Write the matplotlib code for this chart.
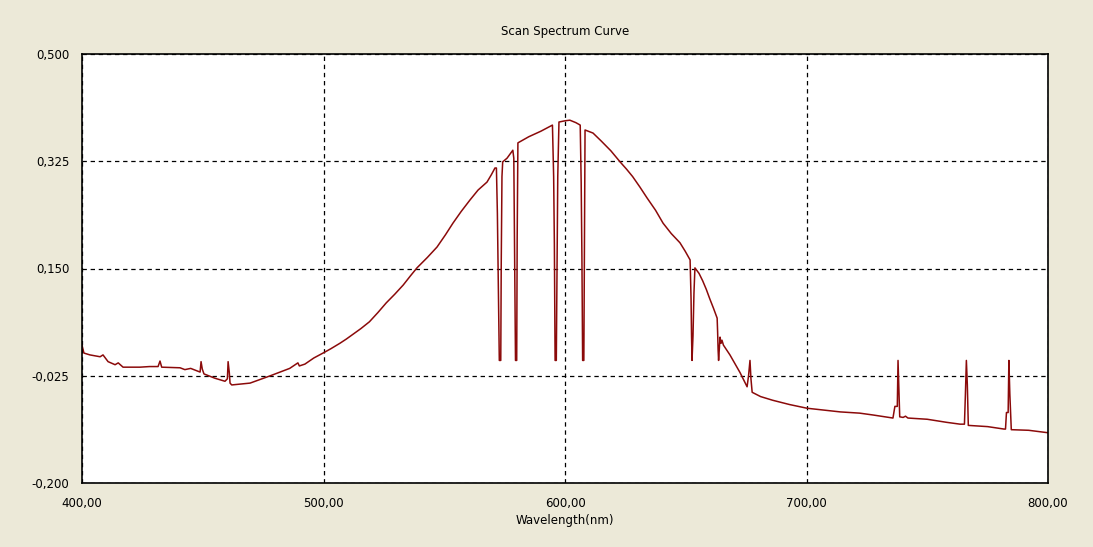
import matplotlib
matplotlib.use("Agg")
import matplotlib.pyplot as plt

# wavelength (nm) and signal
wavelength = [
    400.0, 400.8, 403.3, 407.5, 408.7, 410.8, 413.7, 415.0, 417.0, 424.0,
    428.0, 431.5, 432.3, 433.0, 440.6, 442.6, 445.0, 448.9, 449.3, 449.8,
    450.5, 455.0, 459.2, 460.2, 460.5, 461.0, 461.3, 462.0, 469.6, 478.0,
    482.0, 486.0, 489.4, 490.0, 492.3, 496.0, 499.8, 503.0, 506.8, 509.5,
    512.0, 515.5, 519.0, 522.5, 526.0, 529.5, 533.0, 536.0, 538.7, 543.0,
    547.0, 550.5, 553.6, 557.0, 560.7, 564.0, 567.7, 569.5, 571.0, 571.6,
    572.0, 572.2, 572.5, 572.8, 573.4, 573.6, 573.9, 574.2, 576.0, 578.4,
    578.8, 579.0, 579.3, 579.5, 580.0, 580.2, 580.5, 585.0, 590.0, 594.8,
    595.3, 595.6, 595.9, 596.4, 596.7, 597.0, 597.5, 600.0, 602.0, 604.5,
    606.3, 606.7, 607.0, 607.3, 607.8, 608.0, 608.3, 611.6, 615.0, 619.0,
    622.8, 625.5, 628.0, 631.0, 634.0, 637.5, 640.6, 644.0, 647.6, 649.8,
    651.8, 652.2, 652.4, 652.6, 653.0, 653.4, 653.8, 655.5, 657.0, 658.5,
    660.0, 661.5, 663.0, 663.2, 663.4, 663.6, 664.2, 664.6, 665.0, 665.6,
    668.3, 672.5, 675.4, 676.0, 676.6, 677.0, 677.5, 681.0, 686.0, 693.0,
    700.2, 707.0, 714.0, 722.0, 727.5, 735.8, 736.6, 737.6, 737.9, 738.3,
    738.6, 740.0, 741.0, 742.0, 750.0, 758.0, 763.6, 765.4, 765.8, 766.2,
    766.6, 767.0, 775.0, 781.8, 782.4, 782.8, 783.5, 783.8, 784.2, 784.8,
    792.0, 800.0,
]
signal = [
    0.025, 0.012, 0.009, 0.006, 0.009, -0.002, -0.007, -0.004, -0.011, -0.011,
    -0.010, -0.010, -0.001, -0.011, -0.012, -0.015, -0.013, -0.019, -0.002, -0.014,
    -0.022, -0.029, -0.034, -0.030, -0.002, -0.020, -0.037, -0.040, -0.037, -0.025,
    -0.019, -0.013, -0.004, -0.009, -0.006, 0.004, 0.012, 0.019, 0.028, 0.035,
    0.042, 0.052, 0.063, 0.078, 0.094, 0.108, 0.123, 0.138, 0.151, 0.168,
    0.185, 0.205, 0.224, 0.243, 0.262, 0.278, 0.291, 0.303, 0.314, 0.314,
    0.240, 0.180, 0.079, 0.000, 0.000, 0.160, 0.300, 0.324, 0.330, 0.343,
    0.330, 0.230, 0.080, 0.000, 0.000, 0.200, 0.355, 0.365, 0.374, 0.384,
    0.300, 0.190, 0.000, 0.000, 0.150, 0.300, 0.389, 0.391, 0.392, 0.388,
    0.384, 0.290, 0.170, 0.000, 0.000, 0.150, 0.376, 0.371, 0.358, 0.342,
    0.324, 0.312, 0.300, 0.283, 0.265, 0.245, 0.224, 0.207, 0.192, 0.178,
    0.164, 0.100, 0.040, 0.000, 0.040, 0.110, 0.151, 0.142, 0.130, 0.116,
    0.100, 0.085, 0.069, 0.046, 0.017, 0.000, 0.038, 0.028, 0.033, 0.025,
    0.009, -0.020, -0.043, -0.025, 0.000, -0.030, -0.052, -0.059, -0.065, -0.072,
    -0.078, -0.081, -0.084, -0.086, -0.089, -0.094, -0.075, -0.075, 0.000, -0.050,
    -0.092, -0.093, -0.091, -0.094, -0.096, -0.101, -0.104, -0.104, -0.055, 0.000,
    -0.040, -0.106, -0.108, -0.112, -0.112, -0.085, -0.085, 0.000, -0.055, -0.113,
    -0.114, -0.118,
]

x_ticks = [400, 500, 600, 700, 800]
x_labels = ["400,00", "500,00", "600,00", "700,00", "800,00"]
y_ticks = [-0.2, -0.025, 0.15, 0.325, 0.5]
y_labels = ["-0,200", "-0,025", "0,150", "0,325", "0,500"]

fig = plt.figure(figsize=(10.93, 5.47), dpi=100, facecolor="#ECE9D8")
ax = fig.add_axes([82 / 1093, 64 / 547, 966 / 1093, 429 / 547])
ax.set_facecolor("white")

ax.plot(wavelength, signal, color="#8B0A0A", linewidth=1.1)

ax.set_xlim(400, 800)
ax.set_ylim(-0.2, 0.5)
ax.set_xticks(x_ticks)
ax.set_xticklabels(x_labels)
ax.set_yticks(y_ticks)
ax.set_yticklabels(y_labels)
ax.tick_params(length=0, labelsize=8.5, pad=9)
ax.tick_params(axis="x", pad=10)

ax.grid(True, color="black", linestyle=(0, (3.5, 3)), linewidth=0.9)
for s in ax.spines.values():
    s.set_color("black")
    s.set_linewidth(1.2)

ax.set_title("Scan Spectrum Curve", fontsize=8.5, pad=14)
ax.set_xlabel("Wavelength(nm)", fontsize=8.5, labelpad=3)

fig.savefig("out.png", dpi=100, facecolor=fig.get_facecolor())
